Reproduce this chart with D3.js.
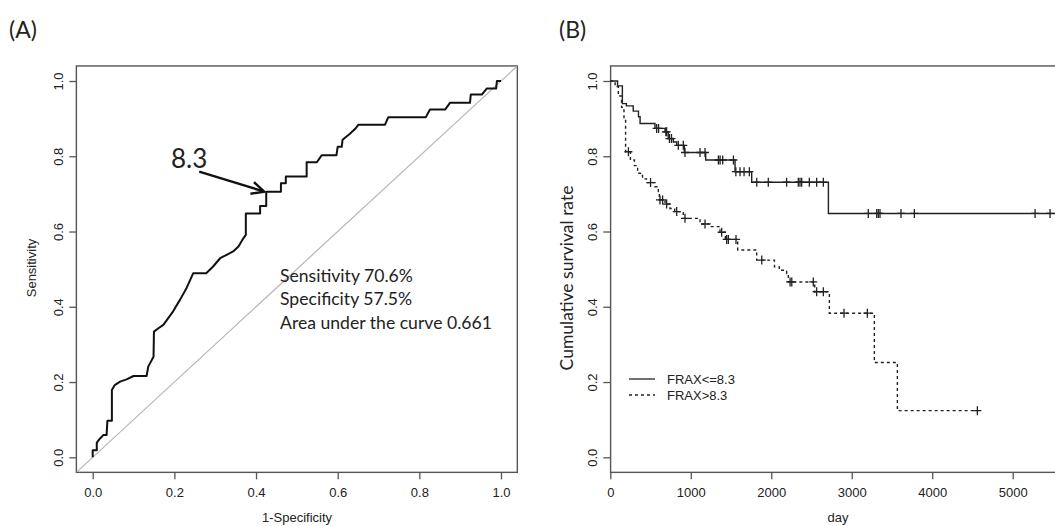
<!DOCTYPE html>
<html>
<head>
<meta charset="utf-8">
<script src="https://cdn.jsdelivr.net/npm/d3@7"></script>
<style>
  body { margin: 0; background: #fff; }
  text { fill: #222; }
  .rfont { font-family: "Liberation Sans", Arial, sans-serif; font-size: 13px; }
  .cfont { font-family: Lato, "Open Sans", sans-serif; }
</style>
</head>
<body>
<script>
const width = 1055;
const height = 526;

// (A) ROC curve
const rocFpr = [0, 0, 0.010, 0.010, 0.018, 0.026, 0.034, 0.036, 0.047, 0.047, 0.054, 0.067, 0.083, 0.100, 0.132, 0.136, 0.149, 0.150, 0.161, 0.173, 0.185, 0.197, 0.214, 0.230, 0.246, 0.278, 0.295, 0.312, 0.328, 0.344, 0.357, 0.369, 0.375, 0.375, 0.410, 0.410, 0.425, 0.425, 0.461, 0.461, 0.473, 0.473, 0.524, 0.524, 0.549, 0.561, 0.597, 0.600, 0.610, 0.612, 0.630, 0.643, 0.651, 0.716, 0.724, 0.816, 0.826, 0.863, 0.875, 0.924, 0.926, 0.953, 0.965, 0.988, 0.990, 1];
const rocTpr = [0, 0.019, 0.019, 0.039, 0.050, 0.059, 0.059, 0.097, 0.097, 0.179, 0.192, 0.201, 0.207, 0.216, 0.216, 0.241, 0.267, 0.334, 0.343, 0.352, 0.370, 0.388, 0.419, 0.450, 0.489, 0.489, 0.507, 0.529, 0.538, 0.547, 0.560, 0.582, 0.591, 0.648, 0.648, 0.668, 0.668, 0.706, 0.706, 0.728, 0.728, 0.746, 0.746, 0.784, 0.784, 0.803, 0.803, 0.825, 0.825, 0.844, 0.860, 0.873, 0.884, 0.884, 0.904, 0.904, 0.924, 0.924, 0.942, 0.942, 0.964, 0.964, 0.980, 0.980, 1.0, 1];
const cutoffPoint = [0.425, 0.706];
const cutoffLabel = "8.3";
const rocNotes = ["Sensitivity 70.6%", "Specificity 57.5%", "Area under the curve 0.661"];
const rocTicks = [0, 0.2, 0.4, 0.6, 0.8, 1.0];

// (B) Kaplan-Meier curves
const lowDays = [0, 90, 150, 200, 285, 350, 370, 555, 680, 720, 783, 825, 920, 1185, 1550, 1757, 2710, 5540];
const lowSurv = [1, 0.987, 0.94, 0.934, 0.92, 0.905, 0.887, 0.874, 0.865, 0.847, 0.838, 0.829, 0.81, 0.79, 0.759, 0.731, 0.648, 0.648];
const lowCensor = [576, 600, 690, 700, 735, 760, 845, 907, 928, 1115, 1177, 1343, 1364, 1397, 1530, 1560, 1612, 1662, 1728, 1820, 1963, 2191, 2336, 2357, 2378, 2473, 2564, 2647, 3206, 3310, 3330, 3351, 3612, 3778, 5278, 5464];

const highDays = [0, 60, 100, 140, 170, 190, 250, 300, 340, 400, 450, 555, 597, 610, 680, 742, 800, 907, 1115, 1240, 1363, 1430, 1583, 1819, 2040, 2100, 2191, 2212, 2540, 2722, 3281, 3567, 4573];
const highSurv = [1, 0.985, 0.96, 0.93, 0.9, 0.812, 0.79, 0.775, 0.755, 0.74, 0.73, 0.719, 0.706, 0.684, 0.673, 0.661, 0.653, 0.635, 0.62, 0.613, 0.598, 0.579, 0.551, 0.524, 0.506, 0.497, 0.488, 0.466, 0.44, 0.383, 0.252, 0.124, 0.124];
const highCensor = [225, 500, 617, 650, 700, 825, 928, 1177, 1384, 1446, 1467, 1562, 1882, 2234, 2255, 2522, 2564, 2647, 2904, 3194, 4561];

const kmYTicks = [0, 0.2, 0.4, 0.6, 0.8, 1.0];
const kmXTicks = [0, 1000, 2000, 3000, 4000, 5000];
const legendLabels = ["FRAX<=8.3", "FRAX>8.3"];

const svg = d3.select("body").append("svg")
    .attr("width", width)
    .attr("height", height);

// ---------- panel A ----------
const xA = d3.scaleLinear().domain([0, 1]).range([92.7, 501]);
const yA = d3.scaleLinear().domain([0, 1]).range([457.3, 81]);
const yShared = yA;

svg.append("text").attr("class", "cfont")
    .attr("x", 9).attr("y", 38)
    .style("font-size", "23px")
    .text("(A)");

svg.append("rect")
    .attr("x", xA(-0.04)).attr("y", yA(1.04))
    .attr("width", xA(1.04) - xA(-0.04))
    .attr("height", yA(-0.04) - yA(1.04))
    .attr("fill", "none").attr("stroke", "#555").attr("stroke-width", 1.4);

svg.append("defs").append("clipPath").attr("id", "clipA")
  .append("rect")
    .attr("x", xA(-0.04)).attr("y", yA(1.04))
    .attr("width", xA(1.04) - xA(-0.04))
    .attr("height", yA(-0.04) - yA(1.04));

svg.append("line")
    .attr("clip-path", "url(#clipA)")
    .attr("x1", xA(-0.04)).attr("y1", yA(-0.04))
    .attr("x2", xA(1.04)).attr("y2", yA(1.04))
    .attr("stroke", "#b5b5b5").attr("stroke-width", 1.2);

const rocLine = d3.line()
    .x(i => xA(rocFpr[i]))
    .y(i => yA(rocTpr[i]));
svg.append("path")
    .attr("d", rocLine(d3.range(rocFpr.length)))
    .attr("fill", "none").attr("stroke", "#111").attr("stroke-width", 2)
    .attr("stroke-linejoin", "round");

const axA_x = svg.append("g")
    .attr("transform", "translate(0," + yA(-0.04) + ")")
    .call(d3.axisBottom(xA).tickValues(rocTicks).tickSize(7).tickPadding(8).tickFormat(d3.format(".1f")));
const axA_y = svg.append("g")
    .attr("transform", "translate(" + xA(-0.04) + ",0)")
    .call(d3.axisLeft(yA).tickValues(rocTicks).tickSize(7).tickFormat(d3.format(".1f")));

svg.append("text").attr("class", "rfont")
    .attr("x", 297).attr("y", 522)
    .attr("text-anchor", "middle")
    .text("1-Specificity");
svg.append("text").attr("class", "rfont")
    .attr("transform", "translate(36,268) rotate(-90)")
    .attr("text-anchor", "middle")
    .text("Sensitivity");

// arrow to cut-off
const tipX = xA(cutoffPoint[0]) - 2;
const tipY = yA(cutoffPoint[1]);
const tailX = tipX - 65, tailY = tipY - 20;
const ang = Math.atan2(tipY - tailY, tipX - tailX);
const headLen = 14;
svg.append("path")
    .attr("d", "M" + tailX + "," + tailY + "L" + tipX + "," + tipY +
        "M" + (tipX - headLen * Math.cos(ang - 0.45)) + "," + (tipY - headLen * Math.sin(ang - 0.45)) +
        "L" + tipX + "," + tipY +
        "L" + (tipX - headLen * Math.cos(ang + 0.45)) + "," + (tipY - headLen * Math.sin(ang + 0.45)))
    .attr("fill", "none").attr("stroke", "#111").attr("stroke-width", 2.4);
svg.append("text").attr("class", "cfont")
    .attr("x", 171).attr("y", 168)
    .style("font-size", "26px")
    .text(cutoffLabel);

svg.selectAll(".note").data(rocNotes).join("text")
    .attr("class", "cfont note")
    .attr("x", 280)
    .attr("y", (d, i) => 282 + i * 23.3)
    .style("font-size", "17.6px")
    .text(d => d);

// ---------- panel B ----------
const xB = d3.scaleLinear().domain([0, 5000]).range([610.3, 1012.7]);
const yB = yShared;

svg.append("text").attr("class", "cfont")
    .attr("x", 559).attr("y", 38)
    .style("font-size", "23px")
    .text("(B)");

svg.append("rect")
    .attr("x", xB(0) + 0.3).attr("y", yB(1.04))
    .attr("width", 600)
    .attr("height", yB(-0.04) - yB(1.04))
    .attr("fill", "none").attr("stroke", "#555").attr("stroke-width", 1.4);

const kmLine = (days, surv) => d3.line()
    .curve(d3.curveStepAfter)
    .x(i => xB(days[i]))
    .y(i => yB(surv[i]))(d3.range(days.length));

const stepAt = (days, surv, t) => surv[d3.bisectRight(days, t) - 1];

svg.append("path")
    .attr("d", kmLine(lowDays, lowSurv))
    .attr("fill", "none").attr("stroke", "#222").attr("stroke-width", 1.4);
svg.append("path")
    .attr("d", kmLine(highDays, highSurv))
    .attr("fill", "none").attr("stroke", "#222").attr("stroke-width", 1.4)
    .attr("stroke-dasharray", "3,3");

const censorMark = (g, days, surv, marks) => {
  g.selectAll("path").data(marks).join("path")
    .attr("d", t => {
      const cx = xB(t), cy = yB(stepAt(days, surv, t));
      return "M" + (cx - 4) + "," + cy + "H" + (cx + 4) + "M" + cx + "," + (cy - 4.5) + "V" + (cy + 4.5);
    })
    .attr("stroke", "#222").attr("stroke-width", 1.3).attr("fill", "none");
};
censorMark(svg.append("g"), lowDays, lowSurv, lowCensor);
censorMark(svg.append("g"), highDays, highSurv, highCensor);

svg.append("g")
    .attr("transform", "translate(0," + yB(-0.04) + ")")
    .call(d3.axisBottom(xB).tickValues(kmXTicks).tickSize(7).tickPadding(8).tickFormat(d3.format("d")));
const axB_y = svg.append("g")
    .attr("transform", "translate(" + xB(0) + ",0)")
    .call(d3.axisLeft(yB).tickValues(kmYTicks).tickSize(7).tickFormat(d3.format(".1f")));

svg.append("text").attr("class", "rfont")
    .attr("x", 838).attr("y", 522)
    .attr("text-anchor", "middle")
    .text("day");
svg.append("text").attr("class", "cfont")
    .attr("transform", "translate(573,278) rotate(-90)")
    .attr("text-anchor", "middle")
    .style("font-size", "17.5px")
    .text("Cumulative survival rate");

// legend
const legend = svg.append("g").attr("transform", "translate(629,379)");
legend.selectAll("line").data(legendLabels).join("line")
    .attr("x1", 0).attr("x2", 26)
    .attr("y1", (d, i) => i * 16).attr("y2", (d, i) => i * 16)
    .attr("stroke", "#222").attr("stroke-width", 1.3)
    .attr("stroke-dasharray", (d, i) => i ? "3,3" : null);
legend.selectAll("text").data(legendLabels).join("text")
    .attr("class", "rfont")
    .attr("x", 38).attr("y", (d, i) => i * 16)
    .attr("dy", "0.35em")
    .text(d => d);

// R-style axes: no domain line, rotated y labels
svg.selectAll(".domain").remove();
svg.selectAll(".tick line").attr("stroke", "#555").attr("stroke-width", 1.3);
svg.selectAll(".tick text")
    .attr("class", "rfont")
    .style("font-size", "13px")
    .attr("fill", "#222");
[axA_y, axB_y].forEach(ax => {
  ax.selectAll(".tick text")
    .attr("x", 0).attr("dy", 0)
    .attr("text-anchor", "middle")
    .attr("transform", "translate(-17,0) rotate(-90)")
    .attr("dominant-baseline", "middle");
});
</script>
</body>
</html>
